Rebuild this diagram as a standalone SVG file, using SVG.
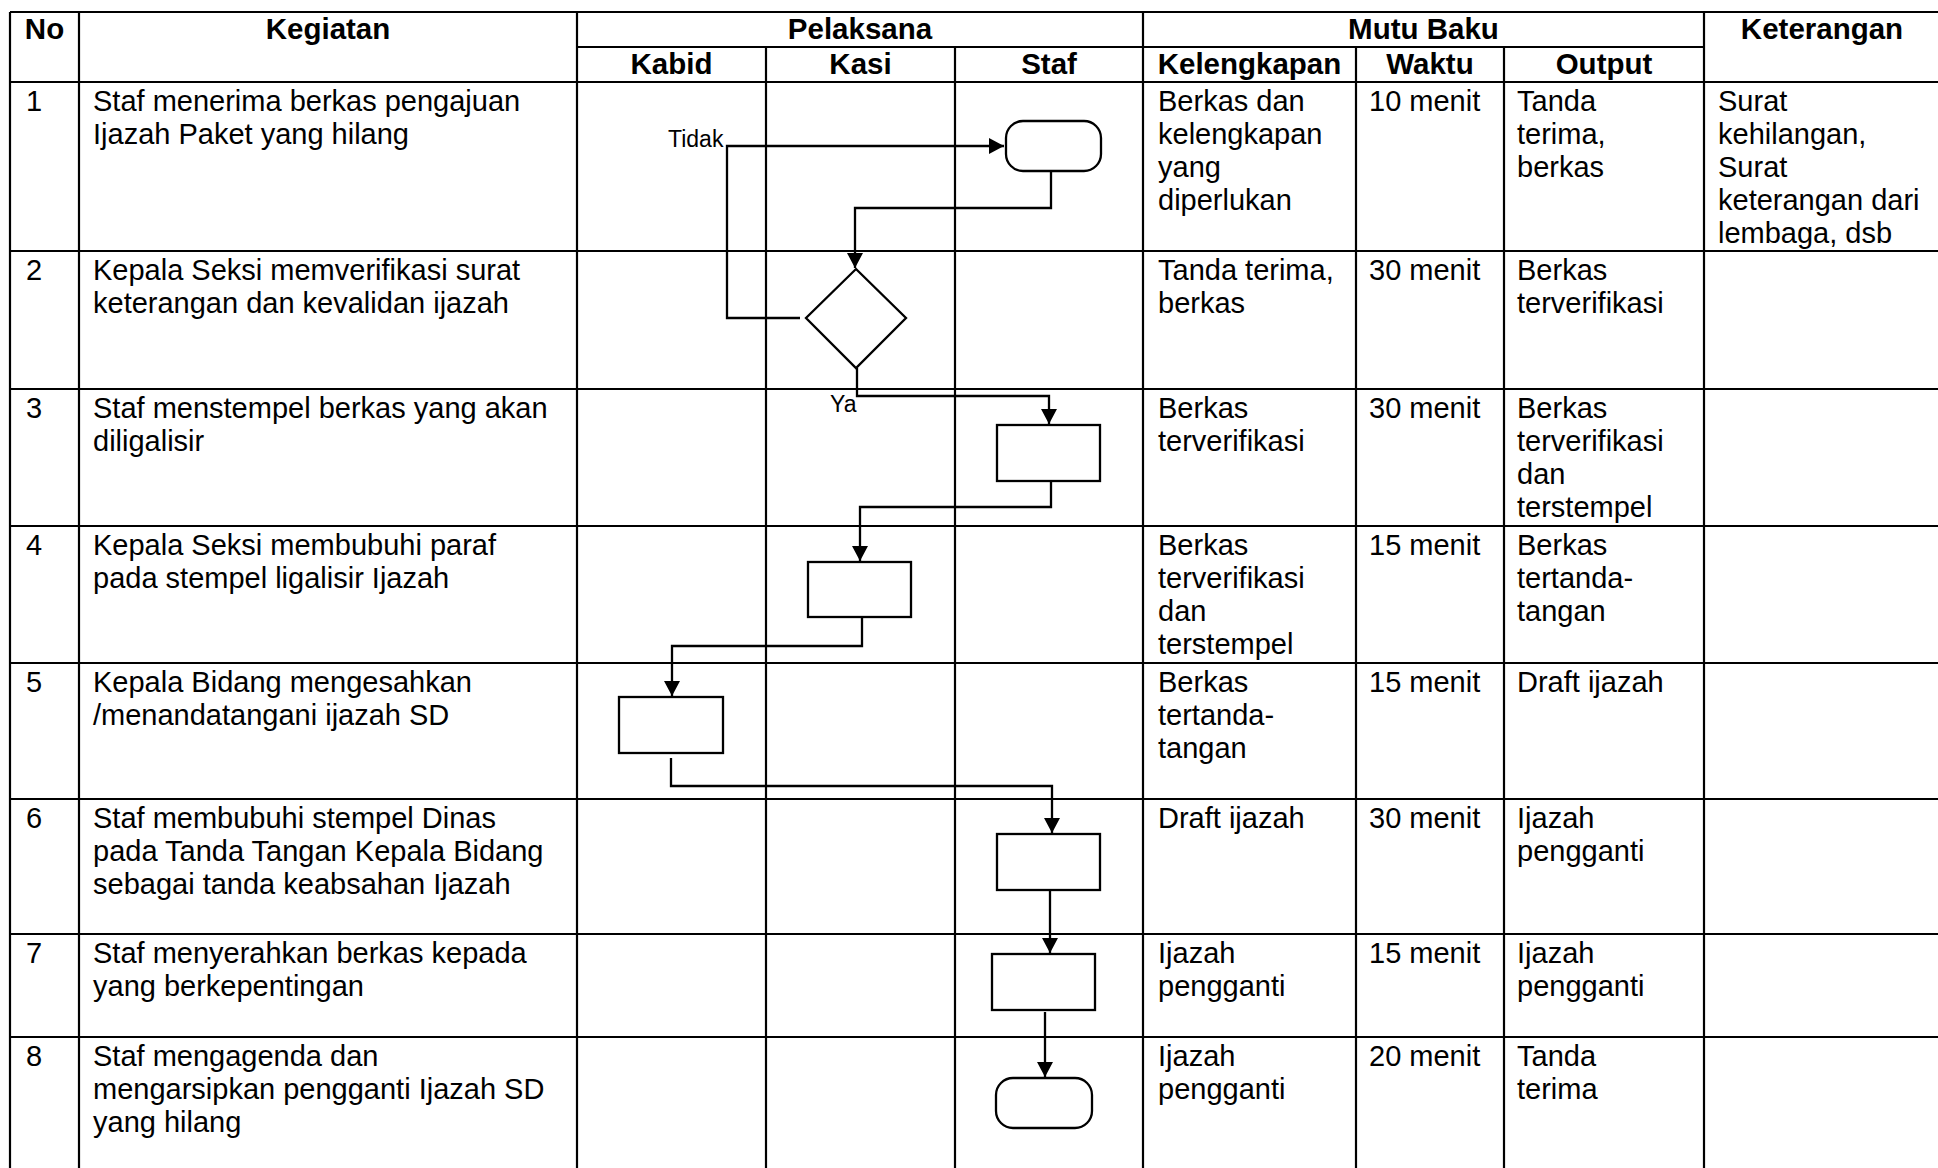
<svg xmlns="http://www.w3.org/2000/svg" width="1938" height="1168" viewBox="0 0 1938 1168">
<style>
.grid{stroke:#000;stroke-width:2.2;fill:none}
.t{font-family:"Liberation Sans",Arial,sans-serif;font-size:29px;fill:#000}
.h{font-weight:bold;text-anchor:middle;font-size:29.5px}
.shape{fill:#fff;stroke:#000;stroke-width:2.3}
.conn{fill:none;stroke:#000;stroke-width:2.3;marker-end:url(#arrow)}
.lbl{font-family:"Liberation Sans",Arial,sans-serif;font-size:23px;fill:#000}
</style>
<defs>
<marker id="arrow" viewBox="0 0 15 16" refX="15" refY="8" markerWidth="15" markerHeight="16" markerUnits="userSpaceOnUse" orient="auto">
<path d="M0,0 L15,8 L0,16 z" fill="#000"/>
</marker>
</defs>
<rect width="1938" height="1168" fill="#fff"/>
<g id="table-grid" class="grid">
<path d="M10,12 H1940 M577,47 H1704 M10,82 H1940 M10,251 H1940 M10,389 H1940 M10,526 H1940 M10,663 H1940 M10,799 H1940 M10,934 H1940 M10,1037 H1940"/>
<path d="M10,12 V1170 M79,12 V1170 M577,12 V1170 M1143,12 V1170 M1704,12 V1170 M766,47 V1170 M955,47 V1170 M1356,47 V1170 M1504,47 V1170"/>
</g>
<g id="headers" class="t h">
<text x="44.5" y="39">No</text>
<text x="328" y="39">Kegiatan</text>
<text x="860" y="39">Pelaksana</text>
<text x="1423.5" y="39">Mutu Baku</text>
<text x="1822" y="39">Keterangan</text>
<text x="671.5" y="74">Kabid</text>
<text x="860.5" y="74">Kasi</text>
<text x="1049" y="74">Staf</text>
<text x="1249.5" y="74">Kelengkapan</text>
<text x="1430" y="74">Waktu</text>
<text x="1604" y="74">Output</text>
</g>
<g id="row1" class="t">
<text x="26" y="111">1</text>
<text x="93" y="111">Staf menerima berkas pengajuan<tspan x="93" dy="33">Ijazah Paket yang hilang</tspan></text>
<text x="1158" y="111">Berkas dan<tspan x="1158" dy="33">kelengkapan</tspan><tspan x="1158" dy="33">yang</tspan><tspan x="1158" dy="33">diperlukan</tspan></text>
<text x="1369" y="111">10 menit</text>
<text x="1517" y="111">Tanda<tspan x="1517" dy="33">terima,</tspan><tspan x="1517" dy="33">berkas</tspan></text>
<text x="1718" y="111">Surat<tspan x="1718" dy="33">kehilangan,</tspan><tspan x="1718" dy="33">Surat</tspan><tspan x="1718" dy="33">keterangan dari</tspan><tspan x="1718" dy="33">lembaga, dsb</tspan></text>
</g>
<g id="row2" class="t">
<text x="26" y="280">2</text>
<text x="93" y="280">Kepala Seksi memverifikasi surat<tspan x="93" dy="33">keterangan dan kevalidan ijazah</tspan></text>
<text x="1158" y="280">Tanda terima,<tspan x="1158" dy="33">berkas</tspan></text>
<text x="1369" y="280">30 menit</text>
<text x="1517" y="280">Berkas<tspan x="1517" dy="33">terverifikasi</tspan></text>
</g>
<g id="row3" class="t">
<text x="26" y="418">3</text>
<text x="93" y="418">Staf menstempel berkas yang akan<tspan x="93" dy="33">diligalisir</tspan></text>
<text x="1158" y="418">Berkas<tspan x="1158" dy="33">terverifikasi</tspan></text>
<text x="1369" y="418">30 menit</text>
<text x="1517" y="418">Berkas<tspan x="1517" dy="33">terverifikasi</tspan><tspan x="1517" dy="33">dan</tspan><tspan x="1517" dy="33">terstempel</tspan></text>
</g>
<g id="row4" class="t">
<text x="26" y="555">4</text>
<text x="93" y="555">Kepala Seksi membubuhi paraf<tspan x="93" dy="33">pada stempel ligalisir Ijazah</tspan></text>
<text x="1158" y="555">Berkas<tspan x="1158" dy="33">terverifikasi</tspan><tspan x="1158" dy="33">dan</tspan><tspan x="1158" dy="33">terstempel</tspan></text>
<text x="1369" y="555">15 menit</text>
<text x="1517" y="555">Berkas<tspan x="1517" dy="33">tertanda-</tspan><tspan x="1517" dy="33">tangan</tspan></text>
</g>
<g id="row5" class="t">
<text x="26" y="692">5</text>
<text x="93" y="692">Kepala Bidang mengesahkan<tspan x="93" dy="33">/menandatangani ijazah SD</tspan></text>
<text x="1158" y="692">Berkas<tspan x="1158" dy="33">tertanda-</tspan><tspan x="1158" dy="33">tangan</tspan></text>
<text x="1369" y="692">15 menit</text>
<text x="1517" y="692">Draft ijazah</text>
</g>
<g id="row6" class="t">
<text x="26" y="828">6</text>
<text x="93" y="828">Staf membubuhi stempel Dinas<tspan x="93" dy="33">pada Tanda Tangan Kepala Bidang</tspan><tspan x="93" dy="33">sebagai tanda keabsahan Ijazah</tspan></text>
<text x="1158" y="828">Draft ijazah</text>
<text x="1369" y="828">30 menit</text>
<text x="1517" y="828">Ijazah<tspan x="1517" dy="33">pengganti</tspan></text>
</g>
<g id="row7" class="t">
<text x="26" y="963">7</text>
<text x="93" y="963">Staf menyerahkan berkas kepada<tspan x="93" dy="33">yang berkepentingan</tspan></text>
<text x="1158" y="963">Ijazah<tspan x="1158" dy="33">pengganti</tspan></text>
<text x="1369" y="963">15 menit</text>
<text x="1517" y="963">Ijazah<tspan x="1517" dy="33">pengganti</tspan></text>
</g>
<g id="row8" class="t">
<text x="26" y="1066">8</text>
<text x="93" y="1066">Staf mengagenda dan<tspan x="93" dy="33">mengarsipkan pengganti Ijazah SD</tspan><tspan x="93" dy="33">yang hilang</tspan></text>
<text x="1158" y="1066">Ijazah<tspan x="1158" dy="33">pengganti</tspan></text>
<text x="1369" y="1066">20 menit</text>
<text x="1517" y="1066">Tanda<tspan x="1517" dy="33">terima</tspan></text>
</g>
<g id="connectors">
<path class="conn" d="M800,318 H727 V146 H1004"/>
<path class="conn" d="M1051,171 V208 H855 V268"/>
<path class="conn" d="M857,368 V396 H1049 V424"/>
<path class="conn" d="M1051,481 V507 H860 V561"/>
<path class="conn" d="M862,614 V646 H672 V696"/>
<path class="conn" d="M671,758 V786 H1052 V833"/>
<path class="conn" d="M1050,887 V953"/>
<path class="conn" d="M1045,1012 V1077"/>
<text class="lbl" x="668" y="147">Tidak</text>
<text class="lbl" x="830" y="412">Ya</text>
</g>
<g id="node-start"><rect class="shape" x="1006" y="121" width="95" height="50" rx="17" ry="17"/></g>
<g id="node-decision"><polygon class="shape" points="856,269 906,318 856,368 806,318"/></g>
<g id="node-step3"><rect class="shape" x="997" y="425" width="103" height="56"/></g>
<g id="node-step4"><rect class="shape" x="808" y="562" width="103" height="55"/></g>
<g id="node-step5"><rect class="shape" x="619" y="697" width="104" height="56"/></g>
<g id="node-step6"><rect class="shape" x="997" y="834" width="103" height="56"/></g>
<g id="node-step7"><rect class="shape" x="992" y="954" width="103" height="56"/></g>
<g id="node-end"><rect class="shape" x="996" y="1078" width="96" height="50" rx="17" ry="17"/></g>
</svg>
